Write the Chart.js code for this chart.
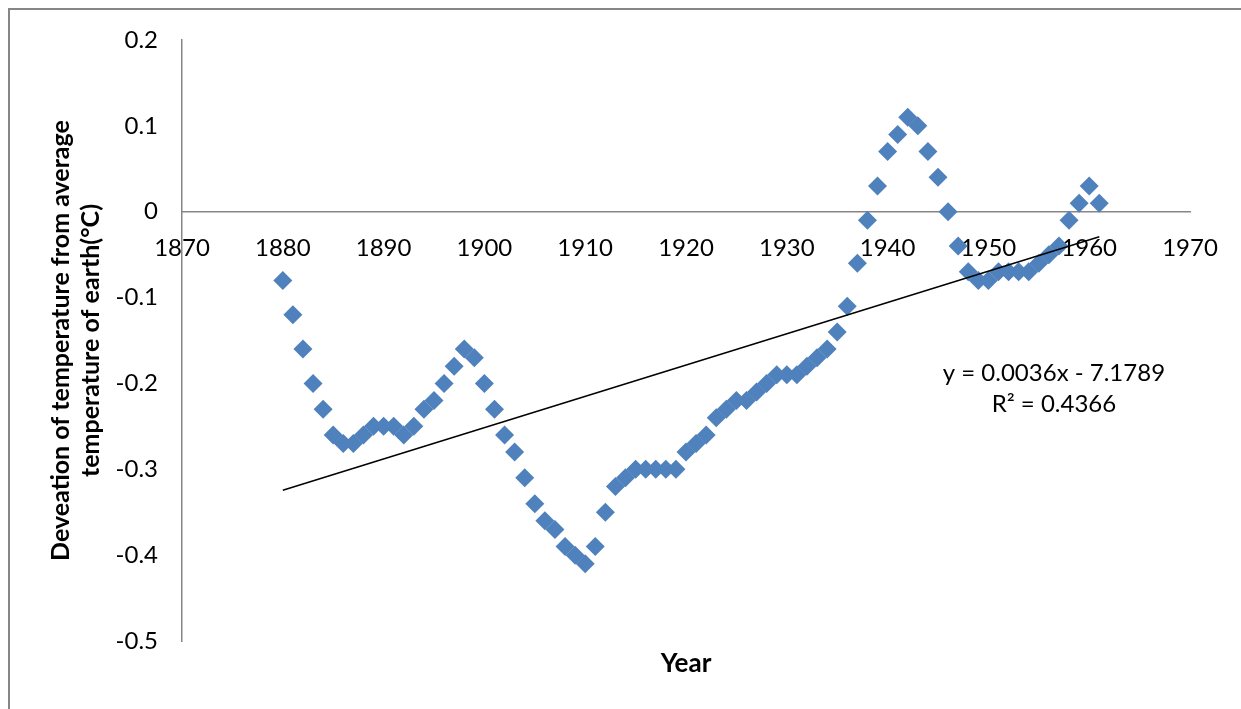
<!DOCTYPE html>
<html>
<head>
<meta charset="utf-8">
<title>Temperature deviation 1880-1961</title>
<script src="https://cdn.jsdelivr.net/npm/chart.js@4.4.1/dist/chart.umd.min.js"></script>
<style>
  html, body { margin: 0; padding: 0; background: #ffffff; }
  #wrap { position: relative; width: 1241px; height: 709px; }
  #frame { position: absolute; left: 8px; top: 8px; width: 1240px; height: 710px;
           border-left: 2px solid #868686; border-top: 2px solid #868686; box-sizing: border-box; }
  canvas { position: absolute; left: 0; top: 0; }
</style>
</head>
<body>
<div id="wrap">
  <div id="frame"></div>
  <canvas id="chart" width="1241" height="709"></canvas>
</div>
<script>
// Annual deviation of the earth's temperature from its long-term average (°C)
const years = [
  1880, 1881, 1882, 1883, 1884, 1885, 1886, 1887, 1888, 1889,
  1890, 1891, 1892, 1893, 1894, 1895, 1896, 1897, 1898, 1899,
  1900, 1901, 1902, 1903, 1904, 1905, 1906, 1907, 1908, 1909,
  1910, 1911, 1912, 1913, 1914, 1915, 1916, 1917, 1918, 1919,
  1920, 1921, 1922, 1923, 1924, 1925, 1926, 1927, 1928, 1929,
  1930, 1931, 1932, 1933, 1934, 1935, 1936, 1937, 1938, 1939,
  1940, 1941, 1942, 1943, 1944, 1945, 1946, 1947, 1948, 1949,
  1950, 1951, 1952, 1953, 1954, 1955, 1956, 1957, 1958, 1959,
  1960, 1961
];
const deviations = [
  -0.08, -0.12, -0.16, -0.20, -0.23, -0.26, -0.27, -0.27, -0.26, -0.25,
  -0.25, -0.25, -0.26, -0.25, -0.23, -0.22, -0.20, -0.18, -0.16, -0.17,
  -0.20, -0.23, -0.26, -0.28, -0.31, -0.34, -0.36, -0.37, -0.39, -0.40,
  -0.41, -0.39, -0.35, -0.32, -0.31, -0.30, -0.30, -0.30, -0.30, -0.30,
  -0.28, -0.27, -0.26, -0.24, -0.23, -0.22, -0.22, -0.21, -0.20, -0.19,
  -0.19, -0.19, -0.18, -0.17, -0.16, -0.14, -0.11, -0.06, -0.01, 0.03,
  0.07, 0.09, 0.11, 0.10, 0.07, 0.04, 0.00, -0.04, -0.07, -0.08,
  -0.08, -0.07, -0.07, -0.07, -0.07, -0.06, -0.05, -0.04, -0.01, 0.01,
  0.03, 0.01
];

// Linear trend fitted to the series
const trendSlope = 0.003646;
const trendIntercept = -7.1789;
const trendRSquared = 0.4366;

const xTicks = [1870, 1880, 1890, 1900, 1910, 1920, 1930, 1940, 1950, 1960, 1970];
const yTicks = [0.2, 0.1, 0, -0.1, -0.2, -0.3, -0.4, -0.5];

const yTitleLines = ['Deveation of temperature from average', 'temperature of earth(°C)'];
const xTitle = 'Year';

const FONT = 'Lato, "Open Sans", sans-serif';
const AXIS_GREY = '#868686';
const MARKER_BLUE = '#4F81BD';

const points = years.map((yr, i) => ({ x: yr, y: deviations[i] }));
const trendStart = years[0];
const trendEnd = years[years.length - 1];
const trendPoints = [trendStart, trendEnd].map(x => ({ x: x, y: trendSlope * x + trendIntercept }));

const slopeText = trendSlope.toFixed(4);
const interceptText = Math.abs(trendIntercept).toFixed(4);
const equationLines = [
  'y = ' + slopeText + 'x ' + (trendIntercept < 0 ? '- ' : '+ ') + interceptText,
  'R\u00B2 = ' + trendRSquared.toFixed(4)
];

// Axis titles and trend equation, placed relative to the plot area
const annotations = {
  id: 'annotations',
  afterDraw(chart) {
    const { ctx, chartArea, scales } = chart;
    ctx.save();
    ctx.fillStyle = '#000000';
    ctx.textAlign = 'center';
    ctx.textBaseline = 'middle';

    ctx.font = 'bold 25px ' + FONT;
    const midY = (chartArea.top + chartArea.bottom) / 2;
    ctx.save();
    ctx.translate(61, midY);
    ctx.rotate(-Math.PI / 2);
    ctx.fillText(yTitleLines[0], 0, 0);
    ctx.restore();
    ctx.save();
    ctx.translate(91, midY);
    ctx.rotate(-Math.PI / 2);
    ctx.fillText(yTitleLines[1], 0, 0);
    ctx.restore();

    ctx.font = 'bold 26px ' + FONT;
    ctx.fillText(xTitle, (chartArea.left + chartArea.right) / 2, chartArea.bottom + 23);

    ctx.font = '24px ' + FONT;
    const eqX = scales.x.getPixelForValue(1956.5);
    const eqY = scales.y.getPixelForValue(-0.188);
    ctx.fillText(equationLines[0], eqX, eqY);
    ctx.fillText(equationLines[1], eqX, eqY + 31);
    ctx.restore();
  }
};

new Chart(document.getElementById('chart'), {
  type: 'scatter',
  data: {
    datasets: [
      {
        label: 'Deviation',
        data: points,
        pointStyle: 'rectRot',
        pointRadius: 9.5,
        pointHoverRadius: 9.5,
        backgroundColor: MARKER_BLUE,
        borderWidth: 0,
        order: 1
      },
      {
        label: 'Linear trend',
        data: trendPoints,
        showLine: true,
        borderColor: '#000000',
        borderWidth: 1.5,
        pointRadius: 0,
        pointHoverRadius: 0,
        fill: false,
        order: 0
      }
    ]
  },
  options: {
    responsive: false,
    animation: false,
    events: [],
    layout: { padding: { top: 40, right: 51, bottom: 68, left: 0 } },
    plugins: {
      legend: { display: false },
      tooltip: { enabled: false },
      title: { display: false }
    },
    scales: {
      x: {
        type: 'linear',
        position: { y: 0 },
        min: 1870,
        max: 1970,
        afterFit(scale) { scale.height = 0; },
        afterBuildTicks(scale) { scale.ticks = xTicks.map(v => ({ value: v })); },
        grid: { display: false, drawTicks: false },
        border: { display: true, color: AXIS_GREY, width: 1.5 },
        ticks: {
          padding: 22,
          color: '#000000',
          font: { family: FONT, size: 24 },
          maxRotation: 0,
          autoSkip: false,
          callback: v => String(v)
        }
      },
      y: {
        type: 'linear',
        position: 'left',
        min: -0.5,
        max: 0.2,
        afterFit(scale) { scale.width = 182; },
        afterBuildTicks(scale) { scale.ticks = yTicks.map(v => ({ value: v })); },
        grid: { display: false, drawTicks: false },
        border: { display: true, color: AXIS_GREY, width: 1.5 },
        ticks: {
          padding: 24,
          color: '#000000',
          font: { family: FONT, size: 24 },
          autoSkip: false,
          callback: v => (Math.abs(v) < 1e-9 ? '0' : String(Math.round(v * 10) / 10))
        }
      }
    }
  },
  plugins: [annotations]
});
</script>
</body>
</html>
